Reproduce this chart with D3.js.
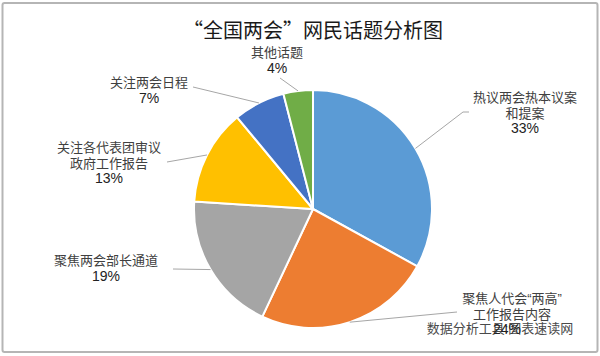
<!DOCTYPE html>
<html><head><meta charset="utf-8">
<script src="https://cdn.jsdelivr.net/npm/d3@7"></script>
<style>
html,body{margin:0;padding:0;background:#fff;}
svg{display:block;}
</style>
</head><body>
<svg id="chart" width="600" height="356"></svg>
<script>
const title = "“全国两会”网民话题分析图";
const categories = [["热议两会热本议案","和提案"],["聚焦人代会“两高”","工作报告内容"],["聚焦两会部长通道"],["关注各代表团审议","政府工作报告"],["关注两会日程"],["其他话题"]];
const values = [33, 24, 19, 13, 7, 4];
const percentLabels = ["33%","24%","19%","13%","7%","4%"];
const colors = ["#5B9BD5","#ED7D31","#A5A5A5","#FFC000","#4472C4","#70AD47"];
const watermark = "数据分析工具:图表速读网";

const labelPos = [
  {x:525, y:102},
  {x:512, y:303},
  {x:106, y:265},
  {x:109, y:152},
  {x:149, y:87},
  {x:277, y:57}
];
const lineStarts = [[[469,112],[463,112]], [[457,312]], [[173,269]], [[167,162]], [[193,87]], [[280,78]]];

const cjk = "'Noto Sans CJK SC','Liberation Sans',sans-serif";
const latin = "'Liberation Sans','Noto Sans CJK SC',sans-serif";

const svg = d3.select("#chart");
svg.append("rect").attr("x",2.5).attr("y",3).attr("width",595).attr("height",349)
  .attr("rx",2).attr("fill","#fff").attr("stroke","#b5b5b5").attr("stroke-width",2);

svg.append("text").attr("x",313).attr("y",38).attr("text-anchor","middle")
  .attr("font-family",cjk)
  .attr("font-size",20).attr("fill","#1a1a1a").text(title);

const cx = 313, cy = 209, R = 119;
const pie = d3.pie().sort(null).value(d=>d);
const arcs = pie(values);
const arc = d3.arc().innerRadius(0).outerRadius(R);
const g = svg.append("g").attr("transform",`translate(${cx},${cy})`);
g.selectAll("path").data(arcs).join("path")
  .attr("d",arc).attr("fill",(d,i)=>colors[i])
  .attr("stroke","#fff").attr("stroke-width",2).attr("stroke-linejoin","round");

arcs.forEach((a,i)=>{
  const m = (a.startAngle+a.endAngle)/2;
  const ex = cx + R*Math.sin(m), ey = cy - R*Math.cos(m);
  const pts = lineStarts[i].concat([[ex,ey]]);
  svg.append("path").attr("d", d3.line()(pts)).attr("fill","none")
    .attr("stroke","#a6a6a6").attr("stroke-width",1);
});

svg.append("text").attr("x",500).attr("y",333).attr("text-anchor","middle")
  .attr("font-family",latin).attr("font-size",13).attr("fill","#4a4a4a").text(watermark);

categories.forEach((lines,i)=>{
  const p = labelPos[i];
  const t = svg.append("text").attr("text-anchor","middle")
    .attr("font-family",latin).attr("font-size",13).attr("fill","#404040");
  lines.forEach((ln,j)=>{
    t.append("tspan").attr("x",p.x).attr("y",p.y + j*15.5).text(ln);
  });
  t.append("tspan").attr("x", i===1 ? 507 : p.x).attr("y",p.y + lines.length*15.5)
    .attr("font-size",14).attr("fill","#222").text(percentLabels[i]);
});
</script>
</body></html>
